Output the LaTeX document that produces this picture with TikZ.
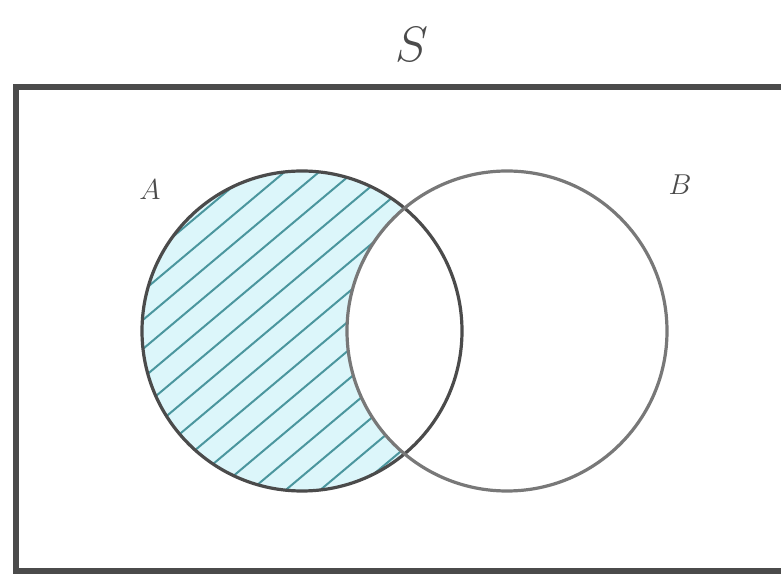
\documentclass[tikz,border=0pt]{standalone}
\usepackage{tikz}
\definecolor{VennGray}{RGB}{75,75,75}
\definecolor{VennLight}{RGB}{120,120,120}
\definecolor{VennCyan}{RGB}{220,246,250}
\definecolor{VennTeal}{RGB}{75,150,158}

\begin{document}
\begin{tikzpicture}[x=0.5pt, y=0.5pt,
          ring/.style={line width=1.6pt},
          hatch/.style={draw=VennTeal, line width=1pt},
          lbl/.style={font=\fontsize{15}{17}\selectfont, text=VennGray}
        ]
        \useasboundingbox (0,0) rectangle (781,573);

        \coordinate (ca) at (302,242);
        \coordinate (cb) at (507,242);

        % A minus B, filled and hatched
        \begin{scope}[even odd rule]
          \clip (ca) circle (160);
          \clip (0,0) rectangle (781,573) (cb) circle (160);
          \fill[VennCyan] (ca) circle (160);
          \foreach \k in {-16,...,16}
            \draw[hatch] (100,242+29*\k-170) -- (500,242+29*\k+166);
        \end{scope}

        \draw[ring, draw=VennGray] (ca) circle (160);
        \draw[ring, draw=VennLight] (cb) circle (160);

        \draw[line width=3pt, draw=VennGray] (800,486) -- (16,486) -- (16,2) -- (800,2);

        \node[font=\fontsize{28}{30}\selectfont, text=VennGray] (lbls) at (412,528) {$S$};
        \node[lbl] (lbla) at (150,383) {$A$};
        \node[lbl] (lblb) at (680,388) {$B$};
      \end{tikzpicture}
\end{document}
